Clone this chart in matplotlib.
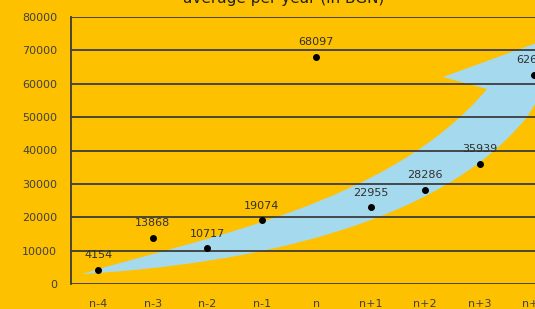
import matplotlib.pyplot as plt
from matplotlib.path import Path
from matplotlib.patches import PathPatch
from matplotlib.transforms import Affine2D

categories = ["n-4", "n-3", "n-2", "n-1", "n", "n+1", "n+2", "n+3", "n+4"]
values = [4154, 13868, 10717, 19074, 68097, 22955, 28286, 35939, 62658]
yticks = [0, 10000, 20000, 30000, 40000, 50000, 60000, 70000, 80000]

bg = "#FDC100"
arrow_blue = "#A5DAEE"
grid_col = "#3c3c3c"
text_col = "#404040"

W, H = 535, 309
fig = plt.figure(figsize=(W / 100, H / 100), dpi=100, facecolor=bg)
# plot area runs past the right edge of the canvas in the reference
ax = fig.add_axes([71 / W, 25 / H, 490.5 / W, 267 / H])
ax.set_facecolor(bg)

x = list(range(len(categories)))
ax.scatter(x, values, s=16, color="black", zorder=3)
for xi, v in zip(x, values):
    ax.annotate(str(v), (xi, v), xytext=(0, 7), textcoords="offset points",
                ha="center", va="bottom", fontsize=8, color="#303030", zorder=4)

ax.set_xlim(-0.5, len(categories) - 0.5)
ax.set_ylim(0, 80000)
ax.set_xticks(x)
ax.set_xticklabels(categories)
ax.set_yticks(yticks)
ax.tick_params(length=0, labelsize=8, colors=text_col)
ax.tick_params(axis="x", pad=11)
ax.tick_params(axis="y", pad=10)
ax.yaxis.grid(True, color=grid_col, linewidth=1.3)
ax.set_axisbelow(True)
for s in ["top", "right", "bottom"]:
    ax.spines[s].set_visible(False)
ax.spines["left"].set_color(grid_col)
ax.spines["left"].set_linewidth(1.3)

# decorative curved arrow, drawn in figure pixel coords (y down)
px = Affine2D().scale(1 / W, -1 / H).translate(0, 1) + fig.transFigure
verts = [(82, 274), (200, 238), (390, 205), (487, 89),
         (443, 77), (600, 20), (620, 130), (545, 88), (527, 117),
         (440, 225), (250, 264), (82, 274), (82, 274)]
codes = [Path.MOVETO, Path.CURVE4, Path.CURVE4, Path.CURVE4,
         Path.LINETO, Path.LINETO, Path.LINETO, Path.LINETO, Path.LINETO,
         Path.CURVE4, Path.CURVE4, Path.CURVE4, Path.CLOSEPOLY]
arrow = PathPatch(Path(verts, codes), facecolor=arrow_blue, edgecolor="none",
                  transform=px, zorder=0.2, clip_on=False)
ax.add_patch(arrow)

fig.text(284 / W, 1 - 3 / H, "average per year (in BGN)", ha="center",
         va="baseline", fontsize=11, color="#202020")

plt.savefig("out.png", dpi=100, facecolor=bg)
